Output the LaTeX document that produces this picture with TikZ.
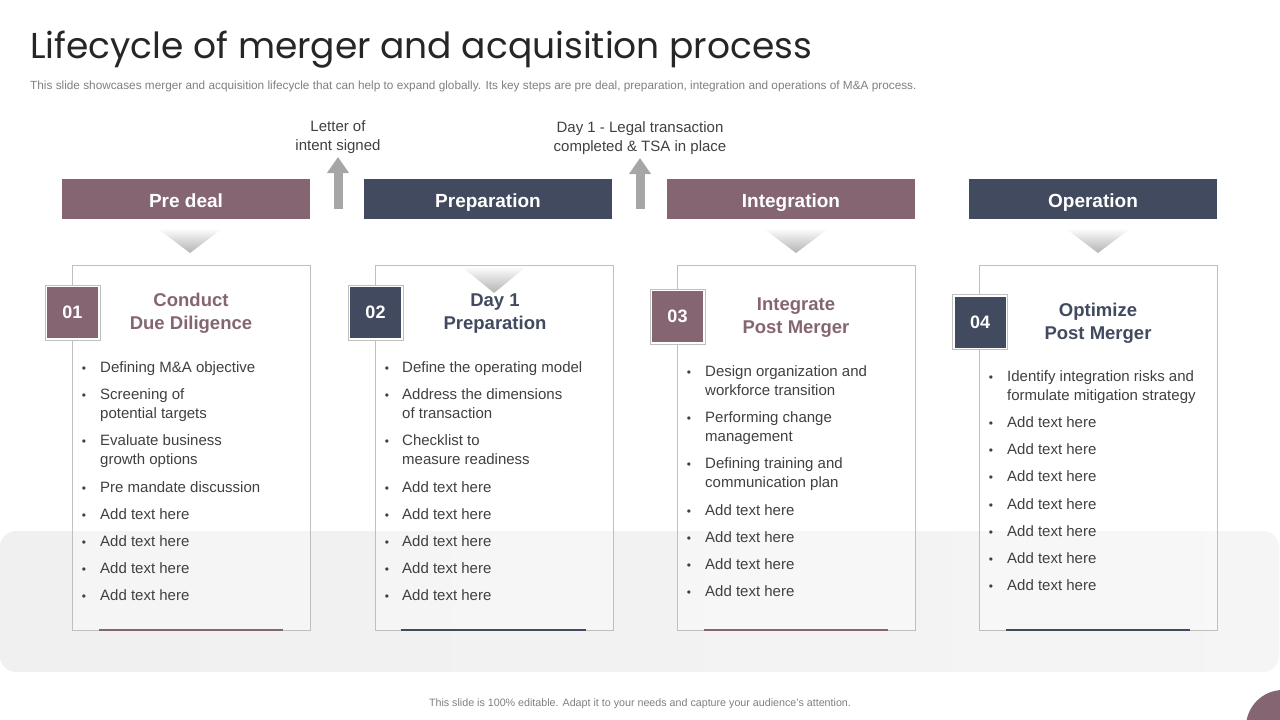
\documentclass[tikz,border=0pt]{standalone}
\usepackage{tikz}
\usepackage{xcolor}
\usepackage{fontspec}
\setmainfont{Liberation Sans}
\newfontfamily\titlefont{Poppins}
\usetikzlibrary{arrows.meta, positioning}

\definecolor{mauve}{HTML}{866573}
\definecolor{slate}{HTML}{414A5E}
\definecolor{bodygray}{HTML}{404040}
\definecolor{notegray}{HTML}{7F7F7F}
\definecolor{lightline}{HTML}{BFBFBF}
\definecolor{arrowgray}{HTML}{A6A6A6}

\begin{document}
\begin{tikzpicture}[x=1pt, y=-1pt,
    phase/.style={minimum width=248pt, minimum height=40pt, inner sep=0pt,
        text height=16pt, text depth=0pt,
        text=white, font=\fontsize{19}{21}\selectfont\bfseries},
    card/.style={draw=lightline, line width=0.8pt, fill=white, fill opacity=0.35,
        minimum width=238pt, minimum height=365pt, inner sep=0pt},
    badge/.style={draw=lightline, line width=0.8pt, fill=white,
        minimum size=55pt, inner sep=0pt},
    numbox/.style={minimum size=51pt, inner sep=0pt, text=white,
        font=\fontsize{18}{20}\selectfont\bfseries},
    cardtitle/.style={anchor=base, align=center, inner sep=0pt,
        font=\fontsize{18.5}{23}\selectfont\bfseries},
    item/.style={anchor=base west, align=left, inner sep=0pt, text=bodygray,
        font=\fontsize{15}{19}\selectfont},
    dot/.style={anchor=base, inner sep=0pt, text=bodygray,
        font=\fontsize{12}{19}\selectfont},
    milestone/.style={anchor=south, align=center, inner sep=3pt, text=bodygray,
        font=\fontsize{15}{19}\selectfont},
    uparrow/.style={line width=9pt, arrowgray, -{Triangle[width=21pt,length=16pt]}},
    cue/.style={top color=white, bottom color=gray!60}
]
    \useasboundingbox (0,0) rectangle (1280,720);

    % Title
    \node[anchor=base west, inner sep=0pt, text=black!85,
        font=\titlefont\fontsize{36}{40}\selectfont] (title) at (30,58)
        {Lifecycle of merger and acquisition process};
    \node[anchor=base west, inner sep=0pt, text=notegray,
        font=\fontsize{11.8}{13}\selectfont] (subtitle) at (30,89)
        {This slide showcases merger and acquisition lifecycle that can help to expand globally. Its key steps are pre deal, preparation, integration and operations of M\&A process.};

    % Background band
    \shade[left color=black!6, right color=black!4, rounded corners=16pt]
        (0,531) rectangle (1279,672);

    % Phase bars
    \node[phase, fill=mauve] (predeal) at (186,199) {Pre deal};
    \node[phase, fill=slate] (prep) at (488,199) {Preparation};
    \node[phase, fill=mauve] (integ) at (791,199) {Integration};
    \node[phase, fill=slate] (oper) at (1093,199) {Operation};

    % Milestones
    \node[milestone] (loi) at (338,157) {Letter of\\intent signed};
    \node[milestone] (dayone) at (640,158) {Day 1 - Legal transaction\\completed \& TSA in place};
    \coordinate (loibase) at (338,209);
    \coordinate (dayonebase) at (640,209);
    \draw[uparrow] (loibase) -- (loi.south);
    \draw[uparrow] (dayonebase) -- (dayone.south);

    % Cards
    \node[card] (card1) at (191,447.5) {};
    \node[card] (card2) at (494,447.5) {};
    \node[card] (card3) at (796,447.5) {};
    \node[card] (card4) at (1098,447.5) {};

    % Pointers
    \shade[cue] (157,228) -- (223,228) -- (190,253) -- cycle;
    \shade[cue] (461,266) -- (527,266) -- (494,293) -- cycle;
    \shade[cue] (763,228) -- (829,228) -- (796,253) -- cycle;
    \shade[cue] (1065,228) -- (1131,228) -- (1098,253) -- cycle;

    % Bottom accents
    \draw[mauve, line width=2.5pt] (99,630) -- (283,630);
    \draw[slate, line width=2.5pt] (401,630) -- (586,630);
    \draw[mauve, line width=2.5pt] (704,630) -- (888,630);
    \draw[slate, line width=2.5pt] (1006,630) -- (1190,630);

    % Badges
    \node[badge] (badge1) at (72.5,312.5) {};
    \node[numbox, fill=mauve] (num1) at (badge1) {01};
    \node[badge] (badge2) at (375.5,312.5) {};
    \node[numbox, fill=slate] (num2) at (badge2) {02};
    \node[badge] (badge3) at (677.5,316.5) {};
    \node[numbox, fill=mauve] (num3) at (badge3) {03};
    \node[badge] (badge4) at (980,322) {};
    \node[numbox, fill=slate] (num4) at (badge4) {04};

    % Card titles (base = last line)
    \node[cardtitle, text=mauve] (head1) at (191,329) {Conduct\\Due Diligence};
    \node[cardtitle, text=slate] (head2) at (495,329) {Day 1\\Preparation};
    \node[cardtitle, text=mauve] (head3) at (796,333) {Integrate\\Post Merger};
    \node[cardtitle, text=slate] (head4) at (1098,339) {Optimize\\Post Merger};

    % Card 1 items (bullet on first line, text base on last line)
    \foreach \y/\b/\txt in {372/372/{Defining M\&A objective}, 399/418/{Screening of\\potential targets},
        445/464/{Evaluate business\\growth options}, 492/492/{Pre mandate discussion},
        519/519/{Add text here}, 546/546/{Add text here}, 573/573/{Add text here}, 600/600/{Add text here}}{
        \node[dot] (dot1-\y) at (84,\y) {\textbullet};
        \node[item] (item1-\y) at (100,\b) {\txt};
    }

    % Card 2 items
    \foreach \y/\b/\txt in {372/372/{Define the operating model}, 399/418/{Address the dimensions\\of transaction},
        445/464/{Checklist to\\measure readiness}, 492/492/{Add text here},
        519/519/{Add text here}, 546/546/{Add text here}, 573/573/{Add text here}, 600/600/{Add text here}}{
        \node[dot] (dot2-\y) at (387,\y) {\textbullet};
        \node[item] (item2-\y) at (402,\b) {\txt};
    }

    % Card 3 items
    \foreach \y/\b/\txt in {376/395/{Design organization and\\workforce transition}, 422/441/{Performing change\\management},
        468/487/{Defining training and\\communication plan}, 515/515/{Add text here},
        542/542/{Add text here}, 569/569/{Add text here}, 596/596/{Add text here}}{
        \node[dot] (dot3-\y) at (689,\y) {\textbullet};
        \node[item] (item3-\y) at (705,\b) {\txt};
    }

    % Card 4 items
    \foreach \y/\b/\txt in {381/400/{Identify integration risks and\\formulate mitigation strategy},
        427/427/{Add text here}, 454/454/{Add text here}, 481/481/{Add text here},
        509/509/{Add text here}, 536/536/{Add text here}, 563/563/{Add text here}, 590/590/{Add text here}}{
        \node[dot] (dot4-\y) at (991,\y) {\textbullet};
        \node[item] (item4-\y) at (1007,\b) {\txt};
    }

    % Footer
    \node[anchor=base, inner sep=0pt, text=notegray, font=\fontsize{10.7}{12}\selectfont]
        (footer) at (640,706)
        {This slide is 100\% editable. Adapt it to your needs and capture your audience's attention.};
    \fill[mauve] (1283,727) circle (37);
\end{tikzpicture}
\end{document}
